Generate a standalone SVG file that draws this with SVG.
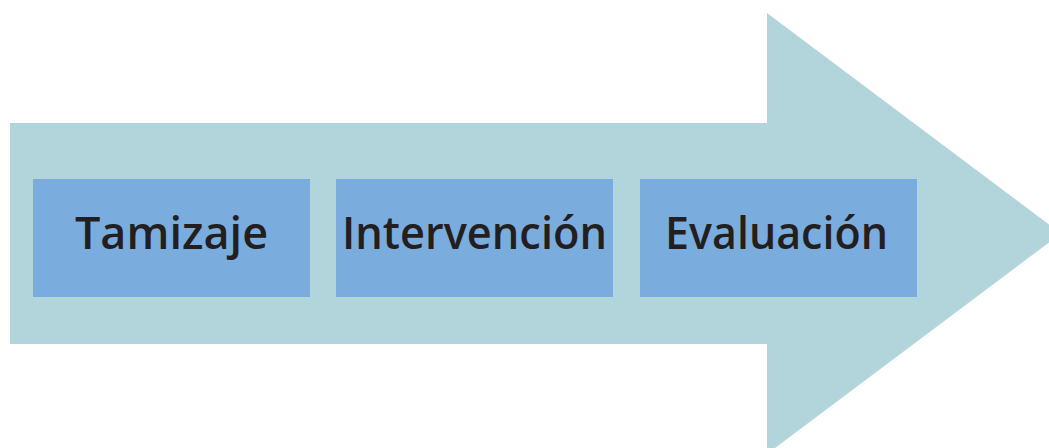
<svg xmlns="http://www.w3.org/2000/svg" width="1049" height="448" viewBox="0 0 1049 448">
<style>
.box{fill:#7AADDE}
.lbl{font-family:"Open Sans","Liberation Sans",sans-serif;font-weight:600;font-size:45px;fill:#231F20;text-anchor:middle}
</style>
<rect width="1049" height="448" fill="#FFFFFF"/>
<g id="arrow">
<polygon points="10,123 767,123 767,13 1061,233.5 767,454 767,344 10,344" fill="#B2D5DB"/>
</g>
<g id="tamizaje">
<rect class="box" x="33" y="179" width="277" height="118"/>
<text class="lbl" x="171.5" y="249">Tamizaje</text>
</g>
<g id="intervencion">
<rect class="box" x="336" y="179" width="277" height="118"/>
<text class="lbl" x="474.5" y="249" textLength="265" lengthAdjust="spacingAndGlyphs">Intervención</text>
</g>
<g id="evaluacion">
<rect class="box" x="640" y="179" width="277" height="118"/>
<text class="lbl" x="776.5" y="249" textLength="223" lengthAdjust="spacingAndGlyphs">Evaluación</text>
</g>
<g id="connectors"></g>
</svg>
